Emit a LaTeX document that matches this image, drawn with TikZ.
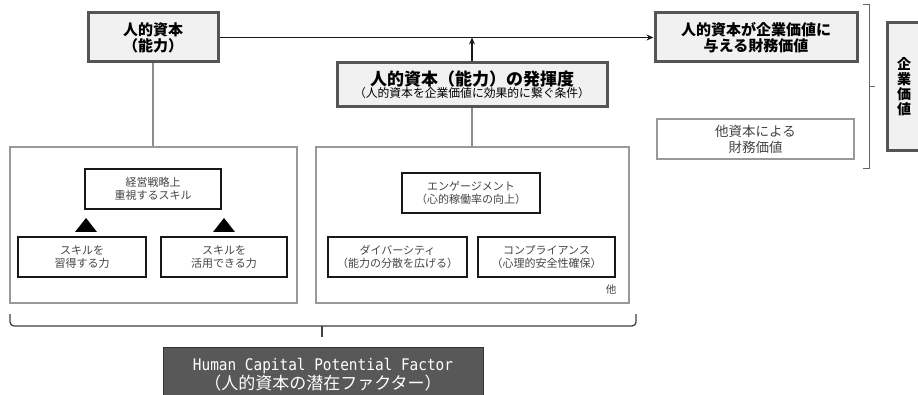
\documentclass[tikz,border=0pt]{standalone}
\usepackage{fontspec}
\setmainfont{Noto Sans CJK JP}
\newfontfamily\monofnt[FakeStretch=0.9]{DejaVu Sans Mono}
\usetikzlibrary{arrows.meta}
\definecolor{boxgray}{HTML}{555555}
\definecolor{boxfill}{HTML}{F1F1F1}
\definecolor{lgray}{HTML}{999999}
\definecolor{tgray}{HTML}{444444}
\definecolor{darkfill}{HTML}{585858}
\tikzset{
  headbox/.style={draw=boxgray, line width=3pt, fill=boxfill, align=center, inner sep=0pt, text=black},
  outerbox/.style={draw=lgray, line width=1.4pt, fill=white, inner sep=0pt},
  innerbox/.style={draw=black!90, line width=2pt, fill=white, align=center, inner sep=0pt, text=tgray,
    font=\fontsize{11}{13}\selectfont},
  thinbox/.style={draw=lgray, line width=1.2pt, fill=white, align=center, inner sep=0pt, text=tgray,
    font=\fontsize{13.5}{16}\selectfont},
  mainarrow/.style={draw=black!90, line width=1.8pt, -{Stealth[length=7pt,width=6pt]}},
  grayline/.style={draw=black!45, line width=1.2pt},
  bracket/.style={draw=black!60, line width=1pt},
  tri/.style={fill=black},
}
\begin{document}
\begin{tikzpicture}[x=1pt,y=-1pt]
\clip (0,0) rectangle (918,395);
\fill[white] (0,0) rectangle (918,395);

% top row
\node[headbox, minimum width=130pt, minimum height=49pt, font=\bfseries\fontsize{15}{16}\selectfont]
  (hc) at (153,37.5) {人的資本\\（能力）};
\node[headbox, minimum width=202pt, minimum height=49pt, font=\bfseries\fontsize{15}{16}\selectfont]
  (fv) at (756,37.5) {人的資本が企業価値に\\与える財務価値};
\node[headbox, minimum width=270pt, minimum height=44pt]
  (mid) at (472,85) {{\bfseries\fontsize{17}{15}\selectfont 人的資本（能力）の発揮度}\\[0pt]{\fontsize{11.8}{13}\selectfont （人的資本を企業価値に効果的に繋ぐ条件）}};
\node[thinbox, minimum width=197pt, minimum height=40pt] (oth) at (755.5,139) {他資本による\\財務価値};
\node[headbox, minimum width=34pt, minimum height=128pt, font=\bfseries\fontsize{14}{15}\selectfont]
  (kv) at (904,87) {企\\業\\価\\値};

% connectors
\draw[mainarrow] (hc.east) -- (fv.west);
\draw[mainarrow] (mid.north) -- (mid.north |- hc.east);

% big boxes
\node[outerbox, minimum width=287pt, minimum height=156pt] (LB) at (153.5,225) {};
\node[outerbox, minimum width=313pt, minimum height=156pt] (RB) at (472.5,225) {};
\draw[grayline] (hc.south) -- (hc.south |- LB.north);
\draw[grayline] (mid.south) -- (mid.south |- RB.north);

% left inner
\node[innerbox, minimum width=136pt, minimum height=40pt] (s1) at (153,189) {経営戦略上\\重視するスキル};
\node[innerbox, minimum width=128pt, minimum height=40pt] (s2) at (82,257) {スキルを\\習得する力};
\node[innerbox, minimum width=126pt, minimum height=40pt] (s3) at (224,257) {スキルを\\活用できる力};
\fill[tri] (75,232) -- (97,232) -- (86,218) -- cycle;
\fill[tri] (213,232) -- (235,232) -- (224,218) -- cycle;

% right inner
\node[innerbox, minimum width=138pt, minimum height=40pt] (e1) at (471,193) {エンゲージメント\\（心的稼働率の向上）};
\node[innerbox, minimum width=139pt, minimum height=40pt] (e2) at (397.5,257) {ダイバーシティ\\（能力の分散を広げる）};
\node[innerbox, minimum width=137pt, minimum height=40pt] (e3) at (546.5,257) {コンプライアンス\\（心理的安全性確保）};
\node[text=tgray, font=\fontsize{10.5}{11}\selectfont, inner sep=0pt] (etc) at (611,290) {他};

% right bracket
\draw[bracket] (863,5) -- (869,5) -- (869,169) -- (863,169);
\coordinate (bt) at (875,87);
\draw[bracket] (869,87) -- (bt);

% bottom brace
\draw[draw=black!75, line width=1.3pt, rounded corners=4pt] (10,314) -- (10,326) -- (636,326) -- (636,314);
\coordinate (bb) at (322,337);
\draw[draw=black!75, line width=1.5pt] (322,326) -- (bb);

% bottom dark box
\node[draw=black!80, line width=1pt, fill=darkfill, text=white, align=center, inner sep=0pt,
  minimum width=320pt, minimum height=56pt] (hcpf) at (323,375)
  {{\monofnt\fontsize{16}{18}\selectfont Human Capital Potential Factor}\\[0pt]
   {\fontsize{17}{18}\selectfont （人的資本の潜在ファクター）}};
\end{tikzpicture}
\end{document}
